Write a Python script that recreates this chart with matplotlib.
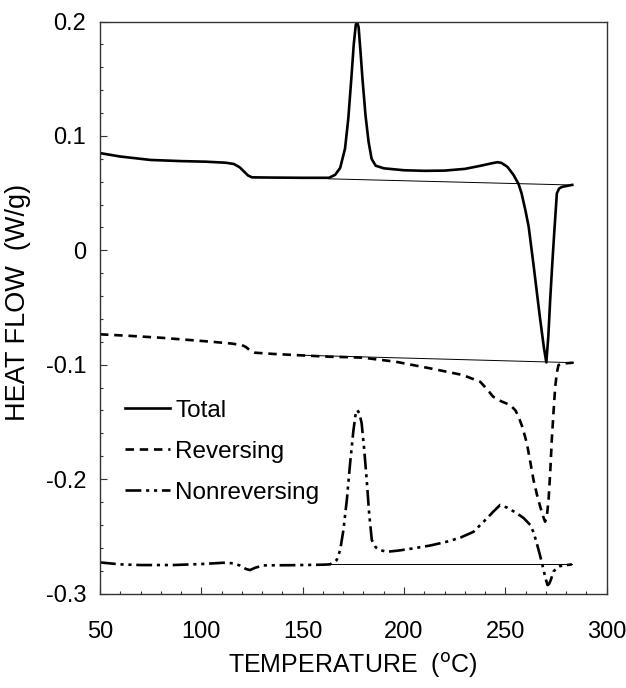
import matplotlib
matplotlib.use('Agg')
import matplotlib.pyplot as plt
from matplotlib.ticker import MultipleLocator, FixedLocator, FixedFormatter

plt.rcParams['font.family'] = ['Liberation Sans', 'DejaVu Sans']

# total heat flow
total_t = [50, 60, 75, 90, 102, 112, 116, 119, 121, 123, 125, 135, 150, 163, 166, 168.5, 170.9,
           172.5, 174, 175.2, 176.2, 176.8, 177.6, 178.6, 179.5, 181, 182.5, 184, 186, 190, 200,
           210, 220, 230, 238, 243, 246, 248, 251, 254, 256.5, 258, 260, 261.5, 264, 267, 269,
           270.2, 271.2, 272.1, 273.2, 274.1, 275.4, 276.5, 278, 283]
total_y = [0.085, 0.082, 0.079, 0.078, 0.0775, 0.0766, 0.0755, 0.0725, 0.069, 0.0655, 0.0638,
           0.0636, 0.0634, 0.0634, 0.066, 0.072, 0.089, 0.115, 0.150, 0.180, 0.197, 0.200, 0.195,
           0.172, 0.150, 0.118, 0.095, 0.080, 0.074, 0.0717, 0.070, 0.0695, 0.0697, 0.0712, 0.074,
           0.076, 0.077, 0.0765, 0.073, 0.066, 0.058, 0.0498, 0.034, 0.0206, -0.0143, -0.058,
           -0.085, -0.098, -0.075, -0.0434, -0.010, 0.0151, 0.0498, 0.054, 0.0555, 0.0572]

# reversing
rev_t = [50, 65, 80, 95, 105, 115, 120, 122, 124, 126.5, 135, 146, 163, 175, 180, 196, 213, 229,
         237.6, 241, 244, 248, 252.4, 255, 256.5, 258.5, 260.6, 262.3, 263.9, 265.5, 267.2, 268.5,
         269.6, 270.5, 271.3, 272.1, 272.9, 273.8, 274.6, 275.4, 276.2, 278, 283.6]
rev_y = [-0.0734, -0.0748, -0.0764, -0.0785, -0.0799, -0.0815, -0.0828, -0.0845, -0.0875, -0.0895,
         -0.0905, -0.0915, -0.093, -0.0935, -0.0939, -0.0974, -0.1032, -0.109, -0.1149, -0.1215,
         -0.128, -0.132, -0.1352, -0.140, -0.1454, -0.155, -0.1687, -0.185, -0.2008, -0.213,
         -0.2241, -0.232, -0.2372, -0.232, -0.2183, -0.195, -0.1658, -0.140, -0.1192, -0.107,
         -0.1003, -0.099, -0.0982]

# nonreversing
nrev_t = [50, 60, 70, 86, 100, 111, 116, 119, 122, 124, 126.5, 130.6, 145, 160, 163.5, 166.8, 168.5,
          170.1, 171.8, 173.4, 175, 176.2, 176.9, 178, 179.1, 180.4, 181.6, 182.8, 184.1, 186,
          188.2, 191.5, 197, 204.6, 213, 221.1, 228, 234.3, 240.9, 244, 247.4, 251, 255.7, 259,
          262.3, 264, 265.5, 267, 268.5, 269.7, 270.8, 271.6, 272.4, 273.7, 275.4, 277, 282.8]
nrev_y = [-0.2728, -0.2745, -0.2751, -0.2751, -0.2742, -0.2731, -0.2736, -0.2755, -0.2785, -0.2795,
          -0.2775, -0.2754, -0.2752, -0.2748, -0.2745, -0.2707, -0.262, -0.2445, -0.218, -0.1862,
          -0.158, -0.142, -0.1396, -0.1425, -0.1512, -0.175, -0.2008, -0.230, -0.2532, -0.2595,
          -0.262, -0.2635, -0.2625, -0.2605, -0.258, -0.2547, -0.251, -0.246, -0.2343, -0.2285,
          -0.2226, -0.225, -0.2299, -0.234, -0.2401, -0.247, -0.2561, -0.266, -0.2766, -0.286,
          -0.2926, -0.2915, -0.2882, -0.2809, -0.2775, -0.276, -0.2745]

# thin baselines
total_base_t = [163, 283]
total_base_y = [0.0625, 0.0571]
rev_base_t = [150, 283.6]
rev_base_y = [-0.0917, -0.0982]
nrev_base_t = [160, 282.8]
nrev_base_y = [-0.2745, -0.2745]

ytick_vals = [0.2, 0.1, 0, -0.1, -0.2, -0.3]
ytick_labels = ['0.2', '0.1', '0', '-0.1', '-0.2', '-0.3']
xtick_vals = [50, 100, 150, 200, 250, 300]

fig = plt.figure(figsize=(6.26, 6.88), dpi=100)
ax = fig.add_axes([0.1597, 0.1373, 0.8095, 0.8314])

ax.plot(total_base_t, total_base_y, color='black', lw=0.7)
ax.plot(rev_base_t, rev_base_y, color='black', lw=0.7)
ax.plot(nrev_base_t, nrev_base_y, color='black', lw=0.7)

ax.plot(total_t, total_y, color='black', lw=1.9, label='Total')
ax.plot(rev_t, rev_y, color='black', lw=1.9, dashes=(3.2, 2.2), label='Reversing')
ax.plot(nrev_t, nrev_y, color='black', lw=1.9, dashes=(6, 1.8, 1.2, 1.8, 1.2, 1.8), label='Nonreversing')

ax.set_xlim(50, 300)
ax.set_ylim(-0.3, 0.2)
ax.xaxis.set_major_locator(FixedLocator(xtick_vals))
ax.xaxis.set_minor_locator(MultipleLocator(10))
ax.yaxis.set_major_locator(FixedLocator(ytick_vals))
ax.yaxis.set_major_formatter(FixedFormatter(ytick_labels))
ax.yaxis.set_minor_locator(MultipleLocator(0.02))

ax.tick_params(which='both', direction='in', top=False, right=False, width=0.8, color='#333333')
ax.tick_params(which='major', length=5)
ax.tick_params(which='minor', length=2.5)
ax.tick_params(axis='x', which='major', pad=20, labelsize=17)
ax.tick_params(axis='y', which='major', pad=10, labelsize=17)
for s in ax.spines.values():
    s.set_linewidth(1.0)
    s.set_color('#333333')

fig.text(0.5639, 0.033, 'TEMPERATURE  ($^{\\mathrm{o}}$C)', ha='center', va='center', fontsize=18)
fig.text(0.028, 0.56, 'HEAT FLOW  (W/g)', ha='center', va='center', rotation=90, fontsize=19.5)

ax.legend(loc='upper left', bbox_to_anchor=(0.05, 0.339), frameon=False, fontsize=17.5,
          handlelength=1.85, handletextpad=0.2, labelspacing=0.78, borderpad=0, borderaxespad=0)

fig.savefig('out.png', dpi=100)
